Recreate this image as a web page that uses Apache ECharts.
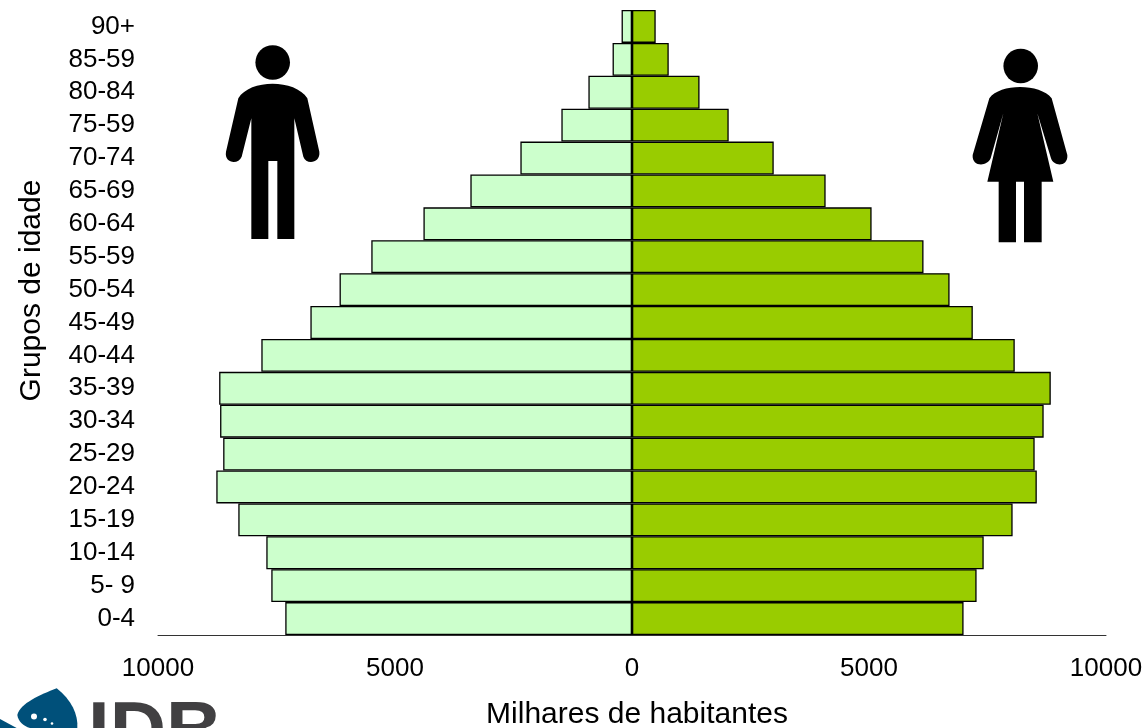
<!DOCTYPE html>
<html><head><meta charset="utf-8">
<style>html,body{margin:0;padding:0;background:#fff}#c{width:1148px;height:728px}</style>
<script src="https://cdn.jsdelivr.net/npm/echarts@6/dist/echarts.min.js"></script>
</head><body><div id="c"></div>
<script>
const categories = ['0-4','5- 9','10-14','15-19','20-24','25-29','30-34','35-39','40-44','45-49','50-54','55-59','60-64','65-69','70-74','75-59','80-84','85-59','90+'];
const men = [7315,7610,7715,8306,8770,8625,8690,8710,7820,6785,6170,5500,4400,3410,2355,1490,920,410,220];
const women = [6995,7270,7420,8030,8540,8495,8685,8835,8075,7190,6700,6150,5055,4085,2990,2040,1425,775,500];
const FONT = '"Liberation Sans", Arial, sans-serif';
const manBody = 'M115,205 C150,147 285,147 322,205 L358,365 C362,400 318,405 310,380 L283,265 L283,627 L232,627 L232,393 L205,393 L205,627 L154,627 L154,265 L125,380 C115,405 72,400 78,365 Z';
const womanBody = 'M118,205 C150,160 270,160 305,205 L352,375 C355,410 312,412 303,385 L262,250 L310,455 L275,455 L275,637 L222,637 L222,455 L198,455 L198,637 L146,637 L146,455 L112,455 L160,250 L122,385 C110,412 65,410 68,375 Z';
const logoA = 'M52,285 C60,250 120,225 170,205 C215,240 235,285 232,324 L90,324 C70,318 55,305 52,285 Z';
const logoB = 'M0,297 L50,324 L0,324 Z';
const shapes = {manBody, womanBody, logoA, logoB};
Object.keys(shapes).forEach(k => echarts.graphic.registerShape(k, echarts.graphic.extendPath(shapes[k], {})));
const chart = echarts.init(document.getElementById('c'), null, {renderer:'canvas'});
const icon = (type, x, y, fill) => ({type, x, y, scaleX:1/3, scaleY:1/3, style:{fill}, silent:true});
chart.setOption({
  animation:false,
  grid:{left:158,right:42,top:10,height:625,containLabel:false,outerBoundsMode:'none'},
  xAxis:{type:'value',min:-10000,max:10000,interval:5000,
    name:'Milhares de habitantes',nameLocation:'middle',nameGap:65,
    nameTextStyle:{fontFamily:FONT,fontSize:30,color:'#000',padding:[0,0,0,10]},
    axisLine:{show:true,onZero:false,lineStyle:{color:'#333',width:1}},
    axisTick:{show:false},splitLine:{show:false},
    axisLabel:{margin:21,fontFamily:FONT,fontSize:26,color:'#000',formatter:v=>String(Math.abs(v))}},
  yAxis:{type:'category',data:categories,
    name:'Grupos de idade',nameLocation:'middle',nameGap:111,
    nameTextStyle:{fontFamily:FONT,fontSize:30,color:'#000',padding:[0,0,0,64]},
    axisLine:{show:false},axisTick:{show:false},splitLine:{show:false},
    axisLabel:{margin:23,fontFamily:FONT,fontSize:26,color:'#000',interval:0}},
  series:[
    {name:'Homens',type:'bar',stack:'p',barWidth:'100%',data:men.map(v=>-v),
     itemStyle:{color:'#CCFFCC',borderColor:'#000',borderWidth:1.3}},
    {name:'Mulheres',type:'bar',stack:'p',barWidth:'100%',data:women,
     itemStyle:{color:'#99CC00',borderColor:'#000',borderWidth:1.3}}
  ],
  graphic:[
    {type:'circle',shape:{cx:272.7,cy:62.5,r:17.3},style:{fill:'#000'},silent:true},
    icon('manBody',200,30,'#000'),
    {type:'circle',shape:{cx:1020.7,cy:66,r:17.3},style:{fill:'#000'},silent:true},
    icon('womanBody',950,30,'#000'),
    icon('logoA',0,620,'#00507A'),
    icon('logoB',0,620,'#00507A'),
    {type:'circle',shape:{cx:34,cy:716.5,r:3},style:{fill:'#fff'},silent:true},
    {type:'circle',shape:{cx:45,cy:719.5,r:1.8},style:{fill:'#fff'},silent:true},
    {type:'circle',shape:{cx:52,cy:723.5,r:1.3},style:{fill:'#fff'},silent:true},
    {type:'text',x:88,y:695,style:{text:'IDB',fontFamily:FONT,fontWeight:'bold',fontSize:78,fill:'#414042',textVerticalAlign:'top'},silent:true}
  ]
});
</script></body></html>
